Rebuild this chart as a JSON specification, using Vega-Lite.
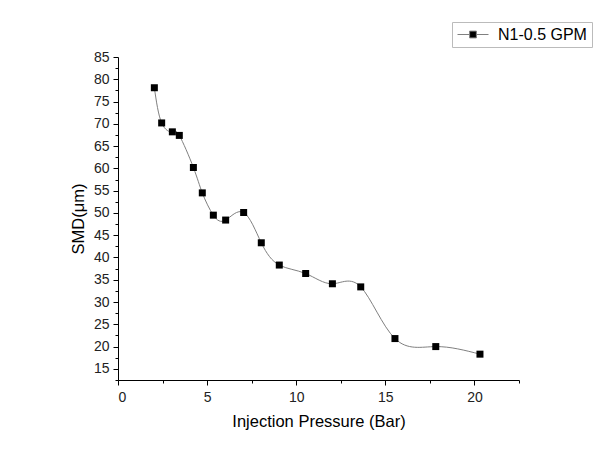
{
  "$schema": "https://vega.github.io/schema/vega-lite/v6.json",
  "width": 401,
  "height": 323,
  "autosize": {"type": "none"},
  "padding": {"left": 118, "top": 57, "right": 79, "bottom": 73},
  "background": "white",
  "config": {
    "view": {"stroke": null},
    "font": "Liberation Sans",
    "axis": {
      "grid": false,
      "domainColor": "black",
      "domainWidth": 1,
      "tickColor": "black",
      "tickWidth": 1,
      "labelFont": "Liberation Sans",
      "labelFontSize": 14,
      "labelColor": "#222222",
      "labelPadding": 5,
      "labelOverlap": false,
      "titleFont": "Liberation Sans",
      "titleFontSize": 16.5,
      "titleFontWeight": "normal",
      "titleColor": "black"
    }
  },
  "data": {
    "values": [
      {"pressure": 2.04, "smd": 78.1, "series": "N1-0.5 GPM"},
      {"pressure": 2.45, "smd": 70.2, "series": "N1-0.5 GPM"},
      {"pressure": 3.05, "smd": 68.2, "series": "N1-0.5 GPM"},
      {"pressure": 3.44, "smd": 67.4, "series": "N1-0.5 GPM"},
      {"pressure": 4.23, "smd": 60.2, "series": "N1-0.5 GPM"},
      {"pressure": 4.73, "smd": 54.5, "series": "N1-0.5 GPM"},
      {"pressure": 5.35, "smd": 49.5, "series": "N1-0.5 GPM"},
      {"pressure": 6.04, "smd": 48.4, "series": "N1-0.5 GPM"},
      {"pressure": 7.05, "smd": 50.1, "series": "N1-0.5 GPM"},
      {"pressure": 8.04, "smd": 43.3, "series": "N1-0.5 GPM"},
      {"pressure": 9.05, "smd": 38.3, "series": "N1-0.5 GPM"},
      {"pressure": 10.53, "smd": 36.4, "series": "N1-0.5 GPM"},
      {"pressure": 12.03, "smd": 34.1, "series": "N1-0.5 GPM"},
      {"pressure": 13.62, "smd": 33.4, "series": "N1-0.5 GPM"},
      {"pressure": 15.54, "smd": 21.8, "series": "N1-0.5 GPM"},
      {"pressure": 17.83, "smd": 20.0, "series": "N1-0.5 GPM"},
      {"pressure": 20.31, "smd": 18.3, "series": "N1-0.5 GPM"}
    ]
  },
  "encoding": {
    "x": {
      "field": "pressure",
      "type": "quantitative",
      "scale": {"domain": [0, 22.5], "nice": false, "zero": false},
      "axis": {
        "title": "Injection Pressure (Bar)",
        "values": [0, 2.5, 5, 7.5, 10, 12.5, 15, 17.5, 20, 22.5],
        "labelExpr": "datum.value % 5 === 0 ? format(datum.value, 'd') : ''",
        "tickSize": {"condition": {"test": "datum.value % 5 === 0", "value": 5}, "value": 3},
        "titlePadding": 9
      }
    },
    "y": {
      "field": "smd",
      "type": "quantitative",
      "scale": {"domain": [12.5, 85], "nice": false, "zero": false},
      "axis": {
        "title": "SMD(μm)",
        "values": [12.5, 15, 17.5, 20, 22.5, 25, 27.5, 30, 32.5, 35, 37.5, 40, 42.5, 45, 47.5, 50, 52.5, 55, 57.5, 60, 62.5, 65, 67.5, 70, 72.5, 75, 77.5, 80, 82.5, 85],
        "labelExpr": "datum.value % 5 === 0 ? format(datum.value, 'd') : ''",
        "tickSize": {"condition": {"test": "datum.value % 5 === 0", "value": 5}, "value": 3},
        "labelPadding": 4,
        "titlePadding": 7
      }
    }
  },
  "layer": [
    {
      "mark": {"type": "line", "interpolate": "natural", "color": "#808080", "strokeWidth": 1}
    },
    {
      "mark": {"type": "point", "shape": "square", "filled": true, "size": 49, "opacity": 1},
      "encoding": {
        "color": {
          "field": "series",
          "type": "nominal",
          "scale": {"range": ["black"]},
          "legend": {
            "title": null,
            "orient": "none",
            "legendX": 334,
            "legendY": -35,
            "labelFont": "Liberation Sans",
            "labelFontSize": 16,
            "labelColor": "black",
            "symbolType": "M-3.1,0H-0.68M0.68,0H3.1M-0.68,-0.68H0.68V0.68H-0.68Z",
            "symbolSize": 100,
            "symbolFillColor": "black",
            "symbolStrokeColor": "#808080",
            "symbolStrokeWidth": 1,
            "padding": 4.5,
            "symbolOffset": 8.5,
            "labelOffset": 17,
            "strokeColor": "#bbbbbb",
            "fillColor": "white",
            "cornerRadius": 0,
            "encode": {
              "symbols": {
                "update": {
                  "fill": {"value": "black"},
                  "stroke": {"value": "#808080"},
                  "strokeWidth": {"value": 1},
                  "opacity": {"value": 1}
                }
              }
            }
          }
        }
      }
    }
  ]
}
